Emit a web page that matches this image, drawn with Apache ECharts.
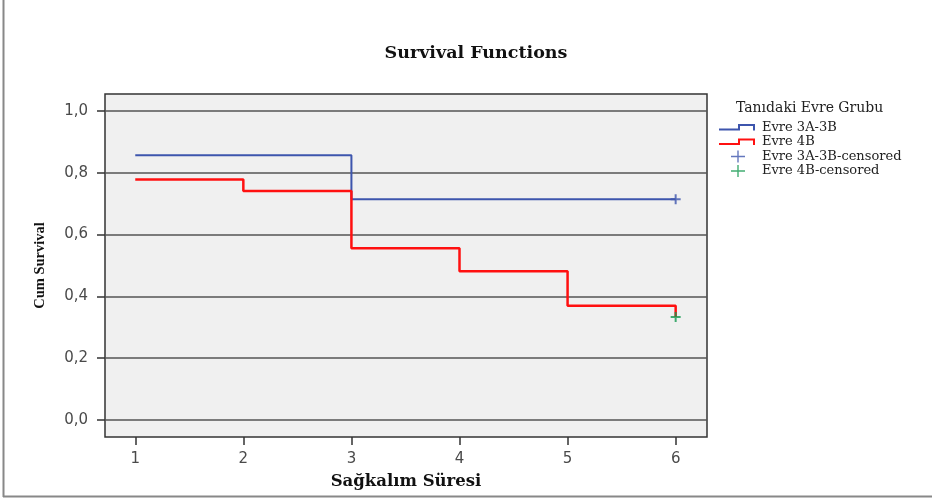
<!DOCTYPE html>
<html>
<head>
<meta charset="utf-8">
<script src="https://cdn.jsdelivr.net/npm/echarts@6/dist/echarts.min.js"></script>
<style>html,body{margin:0;padding:0;background:#fff;}#c{width:932px;height:499px;}</style>
</head>
<body>
<div id="c"></div>
<script>
// ---- data ----
var xTicks = [1, 2, 3, 4, 5, 6];
var yTicks = [0, 0.2, 0.4, 0.6, 0.8, 1.0];
var timeBlue = [1, 3, 6];
var survBlue = [0.857, 0.714, 0.714];
var timeRed = [1, 2, 3, 4, 5, 6];
var survRed = [0.778, 0.741, 0.556, 0.481, 0.370, 0.333];
var censBlue = [[6, 0.714]];
var censRed = [[6, 0.333]];
var seriesNames = ['Evre 3A-3B', 'Evre 4B', 'Evre 3A-3B-censored', 'Evre 4B-censored'];
var legendTitle = 'Tanıdaki Evre Grubu';

function pairs(xs, ys) { return xs.map(function (x, i) { return [x, ys[i]]; }); }

var BLUE = '#3d55ad', RED = '#ff1010', GREEN = '#13994f';
var stepIcon = 'path://M0,0 L0.01,0 L0.01,0.01 Z M37.99,11.99 L38,11.99 L38,12 Z M0,7 L19,7 L19,2.5 L36,2.5 L36,9 L34,9 L34,4.5 L21,4.5 L21,9 L0,9 Z';
var plusIcon = 'path://M0,0 L0.01,0 L0.01,0.01 Z M37.99,11.99 L38,11.99 L38,12 Z M18.3,0 L19.7,0 L19.7,5.3 L26,5.3 L26,6.7 L19.7,6.7 L19.7,12 L18.3,12 L18.3,6.7 L12,6.7 L12,5.3 L18.3,5.3 Z';
var plusMark = 'path://M4,0 L6,0 L6,4 L10,4 L10,6 L6,6 L6,10 L4,10 L4,6 L0,6 L0,4 L4,4 Z';

var chart = echarts.init(document.getElementById('c'), null, {renderer: 'canvas'});
chart.setOption({
  animation: false,
  backgroundColor: '#ffffff',
  title: [{
    text: 'Survival Functions',
    left: 471, top: 39, textAlign: 'center',
    textStyle: {fontFamily: 'DejaVu Serif', fontWeight: 'bold', fontSize: 17.5, color: '#111'}
  }, {
    text: legendTitle,
    left: 731, top: 96,
    textStyle: {fontFamily: 'DejaVu Serif', fontWeight: 'normal', fontSize: 14, color: '#222'}
  }],
  legend: {
    orient: 'vertical', left: 719, top: 121, padding: 0,
    itemWidth: 38, itemHeight: 12, itemGap: 1.5,
    selectedMode: false,
    textStyle: {fontFamily: 'DejaVu Serif', fontSize: 13, color: '#222'},
    data: [
      {name: seriesNames[0], icon: stepIcon, itemStyle: {color: BLUE, borderWidth: 0}},
      {name: seriesNames[1], icon: stepIcon, itemStyle: {color: RED, borderWidth: 0}},
      {name: seriesNames[2], icon: plusIcon, itemStyle: {color: BLUE, borderWidth: 0}},
      {name: seriesNames[3], icon: plusIcon, itemStyle: {color: GREEN, borderWidth: 0}}
    ]
  },
  grid: {
    left: 105, right: 225, top: 94, bottom: 62,
    show: true, backgroundColor: '#f0f0f0', borderColor: '#333', borderWidth: 1.5
  },
  xAxis: {
    type: 'value', min: 0.72, max: 6.29,
    name: 'Sağkalım Süresi', nameLocation: 'middle', nameGap: 36,
    nameTextStyle: {fontFamily: 'DejaVu Serif', fontWeight: 'bold', fontSize: 16.5, color: '#111'},
    axisLine: {show: false, onZero: false},
    axisTick: {show: true, inside: false, length: 8, customValues: xTicks, lineStyle: {color: '#333', width: 1.5}},
    axisLabel: {customValues: xTicks, margin: 15, fontFamily: 'DejaVu Sans', fontSize: 15, color: '#4a4a4a',
      formatter: function (v) { return String(v); }},
    splitLine: {show: false}
  },
  yAxis: {
    type: 'value', min: -0.055, max: 1.055,
    name: 'Cum Survival', nameLocation: 'middle', nameGap: 57,
    nameTextStyle: {fontFamily: 'Liberation Serif', fontWeight: 'bold', fontSize: 14.5, color: '#111'},
    axisLine: {show: false, onZero: false},
    axisTick: {show: true, inside: false, length: 8, customValues: yTicks, lineStyle: {color: '#333', width: 1.5}},
    axisLabel: {customValues: yTicks, margin: 17, fontFamily: 'DejaVu Sans', fontSize: 15, color: '#4a4a4a',
      formatter: function (v) { return v.toFixed(1).replace('.', ','); }},
    splitLine: {show: true, lineStyle: {color: '#555', width: 1.5}}
  },
  graphic: [
    {type: 'line', shape: {x1: 3.5, y1: 0, x2: 3.5, y2: 497}, style: {stroke: '#888', lineWidth: 2}},
    {type: 'line', shape: {x1: 3, y1: 496.5, x2: 932, y2: 496.5}, style: {stroke: '#888', lineWidth: 2}}
  ],
  series: [
    {name: seriesNames[0], type: 'line', step: 'end', data: pairs(timeBlue, survBlue),
      showSymbol: false, symbol: 'none', color: BLUE, lineStyle: {color: BLUE, width: 2}, z: 3},
    {name: seriesNames[1], type: 'line', step: 'end', data: pairs(timeRed, survRed),
      showSymbol: false, symbol: 'none', color: RED, lineStyle: {color: RED, width: 2.5}, z: 3},
    {name: seriesNames[2], type: 'scatter', data: censBlue, symbol: plusMark, symbolSize: 10,
      color: BLUE, itemStyle: {color: BLUE}, z: 4},
    {name: seriesNames[3], type: 'scatter', data: censRed, symbol: plusMark, symbolSize: 10,
      color: GREEN, itemStyle: {color: GREEN}, z: 4}
  ]
});
</script>
</body>
</html>
